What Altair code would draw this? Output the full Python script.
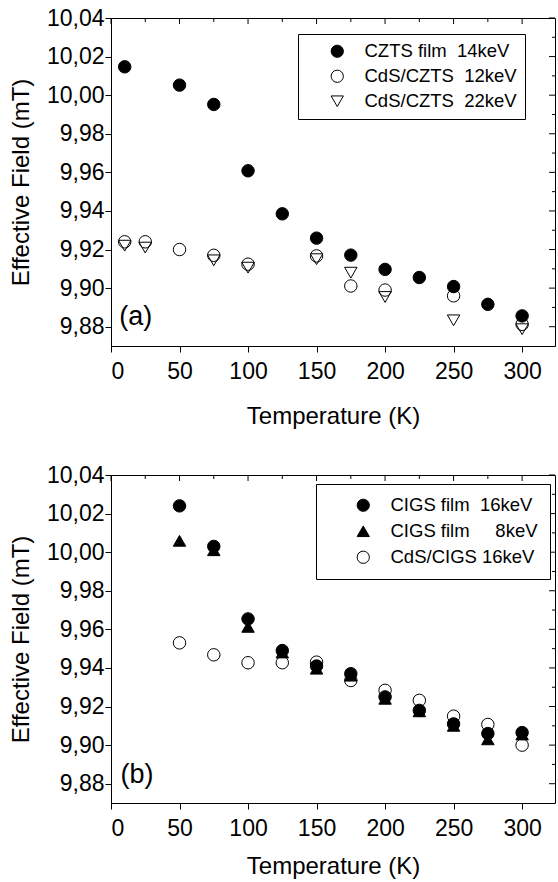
import altair as alt
import pandas as pd

NB = "\u00a0"
PAD_A = "\u2002\u2009"
PAD_B = "\u2009\u2006"

# ---------------- data: panel (a) ----------------
a_series = ["CZTS film" + NB * 2 + "14keV" + PAD_A, "CdS/CZTS" + NB * 2 + "12keV" + PAD_A, "CdS/CZTS" + NB * 2 + "22keV" + PAD_A]
a_T_czts = [10, 50, 75, 100, 125, 150, 175, 200, 225, 250, 275, 300]
a_B_czts = [10.0147, 10.0052, 9.9952, 9.9608, 9.9385, 9.9259, 9.9171, 9.9097, 9.9055, 9.9008, 9.8916, 9.8856]
a_T_cds12 = [10, 25, 50, 75, 100, 150, 175, 200, 250, 300]
a_B_cds12 = [9.924, 9.924, 9.920, 9.917, 9.9124, 9.9167, 9.9011, 9.899, 9.896, 9.8812]
a_T_cds22 = [10, 25, 75, 100, 150, 175, 200, 250, 300]
a_B_cds22 = [9.922, 9.921, 9.9144, 9.9106, 9.915, 9.908, 9.8954, 9.8833, 9.8787]

# ---------------- data: panel (b) ----------------
b_series = ["CIGS film" + NB * 2 + "16keV" + PAD_B, "CIGS film" + NB * 5 + "8keV" + PAD_B, "CdS/CIGS" + NB + "16keV" + PAD_B]
b_T = [50, 75, 100, 125, 150, 175, 200, 225, 250, 275, 300]
b_B_cigs16 = [10.024, 10.003, 9.9654, 9.949, 9.941, 9.937, 9.925, 9.918, 9.911, 9.906, 9.9065]
b_B_cigs8 = [10.0059, 10.001, 9.9613, 9.948, 9.9396, 9.936, 9.924, 9.9175, 9.910, 9.903, 9.9055]
b_B_cds16 = [9.953, 9.9468, 9.9427, 9.9427, 9.943, 9.9335, 9.9284, 9.9232, 9.915, 9.9107, 9.900]

# ---------------- axes ----------------
x_domain = [0, 324]
y_domain = [9.87, 10.04]
x_ticks = [0, 25, 50, 75, 100, 125, 150, 175, 200, 225, 250, 275, 300]
y_ticks = [9.88, 9.89, 9.90, 9.91, 9.92, 9.93, 9.94, 9.95, 9.96, 9.97, 9.98, 9.99,
           10.00, 10.01, 10.02, 10.03, 10.04]

W, H = 444, 328
FONT = "Liberation Sans"

x_minor_test = "datum.value % 50 != 0"
y_minor_test = "round(datum.value * 100) % 2 != 0"


def make_panel(series, xs_list, ys_list, shapes, fills, leg_x, leg_y, tag, tag_x, tag_y,
               sym_off, pad, row_pad, title_pad):
    rows = []
    for s, xs, ys in zip(series, xs_list, ys_list):
        for t, b in zip(xs, ys):
            rows.append({"T": t, "B": b, "series": s})
    df = pd.DataFrame(rows)

    xs = alt.Scale(domain=x_domain, nice=False, zero=False)
    ys = alt.Scale(domain=y_domain, nice=False, zero=False)

    leg = alt.Legend(
        title=None, orient="none", legendX=leg_x, legendY=leg_y,
        strokeColor="black", fillColor="white", padding=pad, cornerRadius=0,
        symbolOffset=sym_off, labelOffset=18, labelFontSize=18.5, labelFont=FONT,
        labelColor="black", symbolSize=150, symbolStrokeColor="black",
        symbolStrokeWidth=1, rowPadding=row_pad, labelLimit=400,
    )

    pts = alt.Chart(df).mark_point(
        filled=True, size=155, strokeWidth=1, opacity=1
    ).encode(
        x=alt.X("T:Q", scale=xs, axis=alt.Axis(
            orient="bottom", values=x_ticks, title="Temperature (K)",
            labelExpr="datum.value % 50 == 0 ? datum.label : ''",
            tickSize={"condition": {"test": x_minor_test, "value": 3}, "value": 6},
            labelPadding=8, titlePadding=title_pad, grid=False, domain=False,
        )),
        y=alt.Y("B:Q", scale=ys, axis=alt.Axis(
            orient="left", values=y_ticks, title="Effective Field (mT)",
            labelExpr="round(datum.value * 100) % 2 == 0 ? replace(format(datum.value, '.2f'), '.', ',') : ''",
            tickSize={"condition": {"test": y_minor_test, "value": 3}, "value": 6},
            labelPadding=1, titlePadding=13, grid=False, domain=False,
        )),
        shape=alt.Shape("series:N", scale=alt.Scale(domain=series, range=shapes), legend=leg),
        fill=alt.Fill("series:N", scale=alt.Scale(domain=series, range=fills), legend=leg),
        stroke=alt.Stroke("series:N", scale=alt.Scale(domain=series, range=["black", "black", "black"]), legend=leg),
    )

    tag_df = pd.DataFrame({"T": [tag_x], "B": [tag_y], "t": [tag]})
    txt = alt.Chart(tag_df).mark_text(
        font=FONT, fontSize=27, align="center", baseline="middle", color="black"
    ).encode(
        x=alt.X("T:Q", scale=xs),
        y=alt.Y("B:Q", scale=ys),
        text="t:N",
    )

    # mirrored (inward) ticks on the top and right edges
    xt = pd.DataFrame({"T": x_ticks})
    yt = pd.DataFrame({"B": y_ticks})
    top_major = alt.Chart(xt).transform_filter("datum.T % 50 == 0").mark_rule(
        color="black", strokeWidth=1).encode(
        x=alt.X("T:Q", scale=xs), y=alt.value(0), y2=alt.value(6))
    top_minor = alt.Chart(xt).transform_filter("datum.T % 50 != 0").mark_rule(
        color="black", strokeWidth=1).encode(
        x=alt.X("T:Q", scale=xs), y=alt.value(0), y2=alt.value(4))
    right_major = alt.Chart(yt).transform_filter("round(datum.B * 100) % 2 == 0").mark_rule(
        color="black", strokeWidth=1).encode(
        y=alt.Y("B:Q", scale=ys), x=alt.value(W - 6), x2=alt.value(W))
    right_minor = alt.Chart(yt).transform_filter("round(datum.B * 100) % 2 != 0").mark_rule(
        color="black", strokeWidth=1).encode(
        y=alt.Y("B:Q", scale=ys), x=alt.value(W - 3), x2=alt.value(W))

    return alt.layer(top_major, top_minor, right_major, right_minor, pts, txt).properties(
        width=W, height=H
    )


panel_a = make_panel(
    a_series, [a_T_czts, a_T_cds12, a_T_cds22], [a_B_czts, a_B_cds12, a_B_cds22],
    ["circle", "circle", "triangle-down"], ["black", "transparent", "transparent"],
    187, 16, "(a)", 18, 9.885, 22, 8, 6, 21,
)
panel_b = make_panel(
    b_series, [b_T, b_T, b_T], [b_B_cigs16, b_B_cigs8, b_B_cds16],
    ["circle", "triangle-up", "circle"], ["black", "black", "transparent"],
    205, 9, "(b)", 19, 9.8845, 26, 12, 7, 14,
)

chart = alt.vconcat(panel_a, panel_b, spacing=34).resolve_scale(
    shape="independent", fill="independent", stroke="independent"
).resolve_legend(
    shape="independent", fill="independent", stroke="independent"
).properties(
    padding={"left": 8, "top": 6, "right": 0, "bottom": 0},
    background="white",
).configure_view(
    stroke="black", strokeWidth=1
).configure_axis(
    labelFont=FONT, labelFontSize=23, labelColor="black",
    titleFont=FONT, titleFontSize=24, titleFontWeight="normal", titleColor="black",
    tickColor="black", tickWidth=1,
)

chart.save("out.html", embed_options={"renderer": "svg", "actions": False})
